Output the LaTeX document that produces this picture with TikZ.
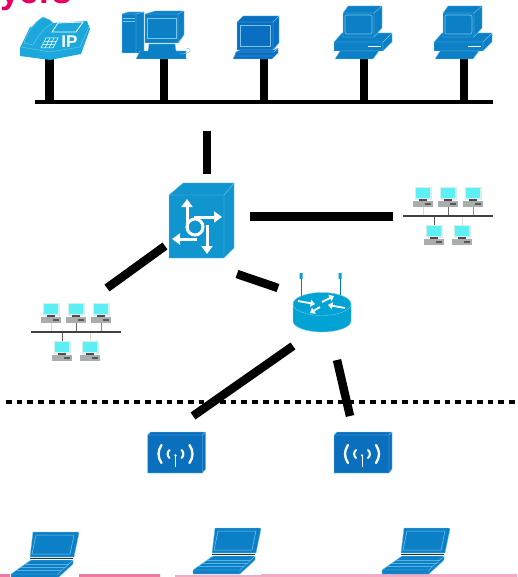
\documentclass[tikz,border=0pt]{standalone}
\usepackage{fontspec}
\setmainfont{Liberation Sans}
\usetikzlibrary{arrows.meta}

\definecolor{hdred}{HTML}{E6005F}
\definecolor{phoneblue}{HTML}{1BA8DC}
\definecolor{pcblue}{HTML}{0C80C6}
\definecolor{termblue}{HTML}{0A6EC2}
\definecolor{switchblue}{HTML}{1095CE}
\definecolor{routerblue}{HTML}{00A3D4}
\definecolor{apblue}{HTML}{0A70BE}
\definecolor{edgeblue}{HTML}{7CC6EA}
\definecolor{pinkdark}{HTML}{EE7BA2}
\definecolor{pinklight}{HTML}{F4AAC5}
\definecolor{lanscreen}{HTML}{5CF0F4}
\definecolor{lanframe}{HTML}{D5EEF0}
\definecolor{langrey}{HTML}{A9ADAD}

\tikzset{
    link/.style={line width=8.5pt},
    busline/.style={line width=3.5pt},
    icon/.style={fill=#1,draw=edgeblue,line width=.4pt,line join=round},
    whiteline/.style={draw=white,line width=#1,line cap=round,line join=round},
    wharrow/.style={white,line width=#1,-{Triangle[length=8pt,width=11pt]}},
    rtarrow/.style={white,line width=1.8pt,-{Triangle[length=4.5pt,width=7pt]}},
    pics/deskpc/.style={code={
        \draw[icon=pcblue] (-22,-26) -- (28,-26) -- (28,-17) -- (19,-8) -- (-30,-8) -- (-30,-17) -- cycle;
        \draw[edgeblue,line width=.4pt] (-30,-17) -- (19,-17) -- (28,-26) (19,-17) -- (19,-8);
        \draw[white,line width=.8pt] (4,-13) -- (17,-13);
        \draw[icon=pcblue] (-21,-46) -- (-16,-53) -- (18,-53) -- (18,-31) -- (10,-22) -- (-21,-22) -- cycle;
        \draw[edgeblue,line width=.4pt] (-21,-46) -- (10,-46) -- (18,-53) (10,-46) -- (10,-22);
        \draw[edgeblue,line width=.6pt,rounded corners=2pt] (-19,-44) rectangle (8,-25);
        \draw[icon=pcblue] (-24,-8) -- (15,-8) -- (9,0) -- (-29,0) -- cycle;
    }},
    pics/towerpc/.style={code={
        % tower
        \draw[icon=pcblue] (-42,-45) -- (-36,-47) -- (-20,-47) -- (-20,-6) -- (-28,-6) -- (-42,-6) -- cycle;
        \draw[edgeblue,line width=.4pt] (-42,-45) -- (-28,-45) -- (-20,-47) (-28,-45) -- (-28,-6);
        \draw[edgeblue,line width=.4pt] (-41,-41) -- (-29,-41) (-41,-38) -- (-29,-38);
        % monitor
        \draw[icon=pcblue] (-19,-45) -- (-9,-48) -- (20,-48) -- (20,-24) -- (14,-16) -- (-19,-16) -- cycle;
        \draw[edgeblue,line width=.4pt] (-19,-45) -- (14,-45) -- (20,-48) (14,-45) -- (14,-16);
        \draw[edgeblue,line width=.5pt] (-17,-41) rectangle (12,-21);
        % base
        \draw[icon=pcblue] (-24,-8) -- (-16,-8) -- (-15,-15) -- (11,-15) -- (12,-8) -- (22,-8) -- (22,0) -- (-28,0) -- cycle;
        \draw[edgeblue,line width=.5pt] (22,-11) .. controls (30,-10) and (26,-5) .. (16,-5);
    }},
    pics/termpc/.style={code={
        \draw[icon=termblue] (-21,-43) -- (15,-43) -- (15,-16) -- (9,-9) -- (-27,-9) -- (-27,-37) -- cycle;
        \draw[edgeblue,line width=.4pt] (-27,-37) -- (9,-37) -- (15,-43) (9,-37) -- (9,-9);
        \draw[edgeblue,line width=.6pt] (-24,-34) rectangle (6,-13);
        \draw[icon=termblue] (-28,-7) -- (-24,-9) -- (10,-9) -- (14,-11) -- (14,-6) -- (8,0) -- (-31,0) -- cycle;
        \draw[edgeblue,line width=.4pt] (-28,-7) -- (10,-7) -- (14,-11) (-30,-3) -- (9,-3);
    }},
    pics/laptop/.style={code={
        \draw[icon=pcblue] (0,0) -- (45,0) -- (46,1) -- (41,25) -- (-3,25) -- cycle;
        \draw[edgeblue,line width=.5pt] (3,3) -- (41,3) -- (37,22) -- (-1,22) -- cycle;
        \draw[black!80,line width=.8pt] (-3,26) -- (40,26);
        \draw[icon=pcblue] (-2,28) -- (40,28) -- (40,32) -- (25,46) -- (-22,46) -- (-22,42) -- cycle;
        \draw[edgeblue,line width=.4pt] (-22,42) -- (25,42) -- (40,28) (25,42) -- (25,46);
        \foreach \k in {32,35,38} {
            \draw[edgeblue!70!pcblue,line width=.25pt] ({-2-(\k-28)*1.43},\k) -- ({40-(\k-28)*1.07},\k);
        }
    }},
    pics/apbox/.style={code={
        \draw[icon=apblue] (-28,-19) -- (-25,-22) -- (30,-22) -- (30,15) -- (27,19) -- (-28,19) -- cycle;
        \draw[edgeblue,line width=.4pt] (-28,-19) -- (27,-19) -- (30,-22) (27,-19) -- (27,19);
        \foreach \s in {-1,1} {
            \draw[whiteline=2.3pt] (\s*14,-9) .. controls (\s*18,-3) and (\s*18,3) .. (\s*14,9);
            \draw[whiteline=2pt] (\s*6,-4) .. controls (\s*8.5,-2) and (\s*8.5,2) .. (\s*6,4);
        }
        \draw[white,line width=.6pt,-{Triangle[length=2pt,width=2.5pt]}] (0,13) -- (0,0);
    }},
    pics/lanpc/.style={code={
        \fill[lanframe] (-8.5,-11) rectangle (8.5,2);
        \fill[lanscreen] (-7,-10) rectangle (7,0);
        \fill[black!70] (-4,1) rectangle (4,2.5);
        \fill[langrey] (-10,2.5) rectangle (10,9);
        \fill[black!65] (2,5) rectangle (8,7);
    }},
    pics/lancluster/.style={code={
        \foreach \x/\c in {0/black!15,25/black!60,50/black!45} {
            \draw[\c,line width=.7pt] (\x,20) -- (\x,29);
        }
        \draw[black!65,line width=.7pt] (11,29) -- (11,38);
        \draw[black!15,line width=.7pt] (39,29) -- (39,38);
        \draw[black!75,line width=2pt] (-20,29) -- (70,29);
        \foreach \x in {0,25,50} { \pic at (\x,11) {lanpc}; }
        \foreach \x in {11,39} { \pic at (\x,49) {lanpc}; }
    }},
}

\begin{document}
\begin{tikzpicture}[x=1pt,y=-1pt]
    \useasboundingbox (0,0) rectangle (517,577);

    % pieces of the page behind the picture
    \node[anchor=base west,inner sep=0pt,text=hdred,font=\fontsize{35}{35}\selectfont\bfseries] (title) at (0,3.5) {yers};
    \fill[pinkdark] (0,574) rectangle (10,577) (79,574) rectangle (160,577);
    \fill[pinklight] (175,575) rectangle (261,577) (261,574) rectangle (517,577);

    % upper bus
    \coordinate (busl) at (35,102);
    \coordinate (busr) at (493,102);
    \coordinate (phone) at (49.5,59);
    \coordinate (tower) at (164,59);
    \coordinate (term) at (264,59);
    \coordinate (deska) at (364,59);
    \coordinate (deskb) at (464,59);

    % free ends of the links
    \coordinate (upa) at (207,131);
    \coordinate (upb) at (207,174);
    \coordinate (lana) at (250,216.5);
    \coordinate (lanb) at (393,216.5);
    \coordinate (lanc) at (165,246);
    \coordinate (land) at (107,288);
    \coordinate (swa) at (237,274);
    \coordinate (swb) at (278,288);
    \coordinate (rta) at (293,346);
    \coordinate (rtb) at (193,416);
    \coordinate (rtc) at (337,360);
    \coordinate (rtd) at (350,416);
    \coordinate (dashl) at (6,402);
    \coordinate (dashr) at (517,402);

    \draw[busline] (busl) -- (busr);
    \foreach \n in {phone,tower,term,deska,deskb} {
        \draw[link] (\n) -- (\n |- busl);
    }
    \draw[link] (upa) -- (upb);
    \draw[link] (lana) -- (lanb);
    \draw[link] (lanc) -- (land);
    \draw[link] (swa) -- (swb);
    \draw[link] (rta) -- (rtb);
    \draw[link] (rtc) -- (rtd);
    \draw[line width=3.2pt,dash pattern=on 5.7pt off 5pt] (dashl) -- (dashr);

    % ip phone
    \fill[phoneblue] (20,48) -- (30,27) -- (52,23) -- (87,21) -- (90,29) -- (81,54) -- (50,60) -- (20,56) -- cycle;
    \draw[edgeblue,line width=.4pt] (21,47) -- (50,52) -- (80,47) -- (89,27);
    \draw[icon=phoneblue] (24,43) .. controls (27,33) and (34,22) .. (43,17) -- (50,20) -- (53,23) -- (47,27) .. controls (42,30) and (37,38) .. (33,45) -- cycle;
    \draw[white,line width=.8pt,fill=phoneblue] (58,23) -- (83,22) -- (76,32) -- (52,32) -- cycle;
    \draw[white,line width=.5pt] (46,38) -- (58,38) -- (53,48) -- (41,48) -- cycle
        (44,41.3) -- (56,41.3) (43,44.6) -- (55,44.6) (50,38) -- (45,48) (54,38) -- (49,48);
    \node[text=white,inner sep=0pt,font=\fontsize{17}{17}\selectfont\bfseries] (iplabel) at (69.5,42) {IP};

    \pic at (tower) {towerpc};
    \pic at (term) {termpc};
    \pic at (deska) {deskpc};
    \pic at (deskb) {deskpc};

    % switch
    \draw[icon=switchblue] (169,195) -- (183,183) -- (234,183) -- (234,248) -- (224,258) -- (169,258) -- cycle;
    \draw[edgeblue,line width=.4pt] (169,195) -- (224,195) -- (234,183) (224,195) -- (224,258);
    \draw[white,line width=3pt] (195,227) circle (8pt);
    \draw[wharrow=3pt] (187,229) -- (187,199);
    \draw[wharrow=3pt] (194,217) -- (222,217);
    \draw[wharrow=3pt] (197,239) -- (172,239);
    \draw[wharrow=3pt] (207,225) -- (207,254);

    % router
    \draw[routerblue!80!black,line width=1pt] (301,276) -- (301,300) (340,276) -- (340,300);
    \fill[routerblue] (299.5,273) rectangle (302.5,279) (338.5,273) rectangle (341.5,279);
    \draw[icon=routerblue] (293,304) -- (293,321) arc[start angle=180,end angle=0,x radius=29,y radius=11] -- (351,304);
    \draw[icon=routerblue] (322,304) ellipse (29pt and 11.5pt);
    \draw[rtarrow] (298,301) -- (315,304);
    \draw[rtarrow] (345,308) -- (328,305);
    \draw[rtarrow] (322,302) -- (334,296);
    \draw[rtarrow] (320,307) -- (310,313);

    \pic at (175.5,454) {apbox};
    \pic at (362,454) {apbox};

    \pic at (423,187) {lancluster};
    \pic at (51,303) {lancluster};

    \pic at (33,532) {laptop};
    \pic at (215,528) {laptop};
    \pic at (404,528) {laptop};
\end{tikzpicture}
\end{document}
